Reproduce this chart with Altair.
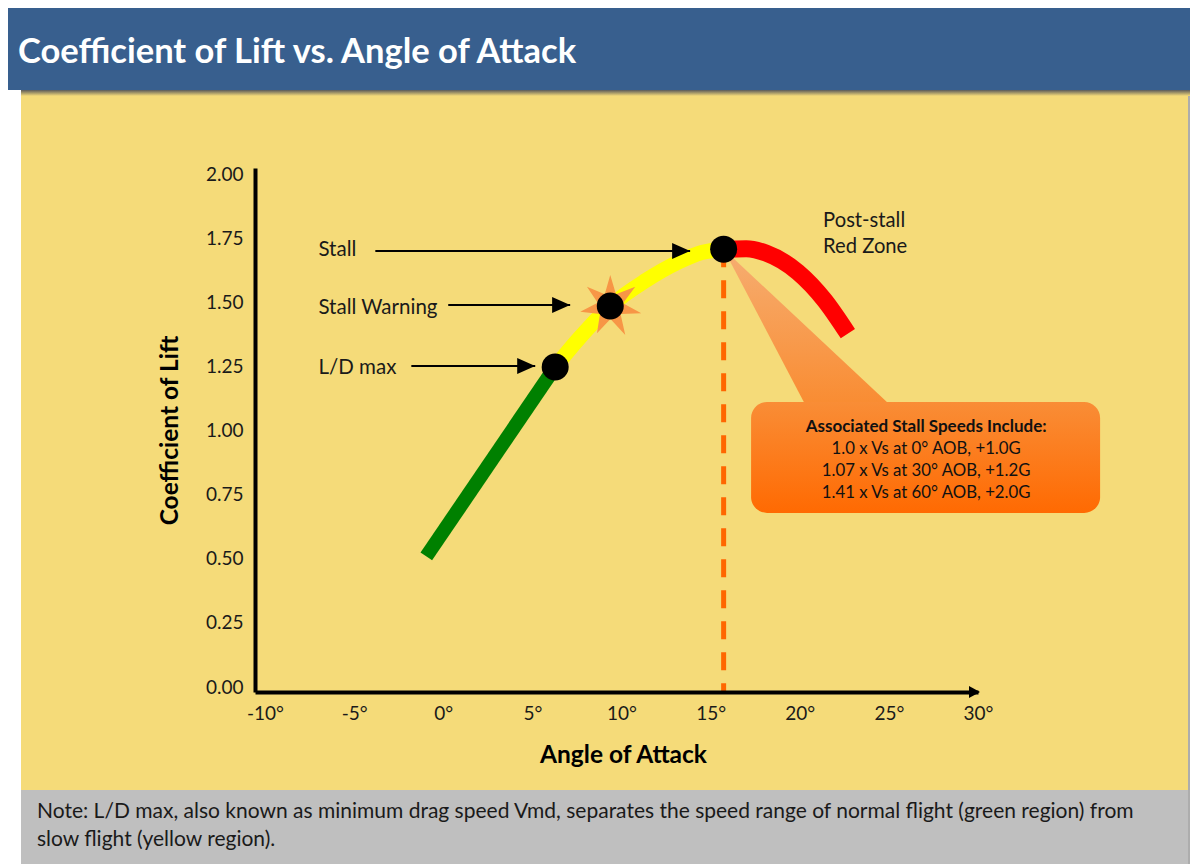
import math
import altair as alt
import pandas as pd

# ---------------- data ----------------
green_aoa = [-0.95, 6.28]
green_cl = [0.51, 1.25]
yellow_aoa = [6.28, 7.6, 9.37, 11.3, 13.2, 14.5, 15.73]
yellow_cl = [1.25, 1.36, 1.488, 1.585, 1.66, 1.697, 1.71]
red_aoa = [15.73, 17.0, 18.1, 19.9, 21.4, 22.7]
red_cl = [1.71, 1.712, 1.695, 1.62, 1.51, 1.38]

point_names = ["L/D max", "Stall Warning", "Stall"]
point_aoa = [6.28, 9.37, 15.73]
point_cl = [1.25, 1.488, 1.71]

label_aoa = [-7.0, -7.0, -7.0]
label_cl = [1.246, 1.48, 1.707]
arrow_from = [-1.79, 0.28, -3.81]
arrow_to = [5.16, 7.12, 13.85]
arrow_cl = [1.254, 1.492, 1.703]

stall_aoa = 15.73
stall_cl = 1.71

post_lines = ["Post-stall", "Red Zone"]
post_aoa = [21.31, 21.31]
post_cl = [1.82, 1.719]

box_aoa = [17.27, 36.85]
box_cl = [1.113, 0.68]
box_title = "Associated Stall Speeds Include:"
box_lines = ["1.0 x Vs at 0° AOB, +1.0G", "1.07 x Vs at 30° AOB, +1.2G", "1.41 x Vs at 60° AOB, +2.0G"]
box_text_aoa = 27.09
box_title_cl = 1.0156
box_lines_cl = [0.930, 0.844, 0.758]

x_ticks = [-10, -5, 0, 5, 10, 15, 20, 25, 30]
y_ticks = [0.0, 0.25, 0.5, 0.75, 1.0, 1.25, 1.5, 1.75, 2.0]
x_domain = [-10.56, 30]
y_domain = [-0.0195, 2.027]

title_text = "Coefficient of Lift vs. Angle of Attack"
note_line1 = "Note: L/D max, also known as minimum drag speed Vmd, separates the speed range of normal flight (green region) from"
note_line2 = "slow flight (yellow region)."

FONT = "Lato"

# ---------------- scales / axes ----------------
xscale = alt.Scale(domain=x_domain, nice=False, zero=False)
yscale = alt.Scale(domain=y_domain, nice=False, zero=False)
xaxis = alt.Axis(values=x_ticks, labelExpr="datum.value + '°'", title="Angle of Attack",
                 grid=False, ticks=False, tickSize=0, domainColor="black", domainWidth=4,
                 labelFont=FONT, labelFontSize=19, labelColor="#1a1a1a", labelPadding=12,
                 labelFlush=False, labelOverlap=False, zindex=1,
                 titleFont=FONT, titleFontSize=24.5, titleFontWeight="bold", titleColor="black",
                 titleX=368, titleY=63, titleAlign="center", titleBaseline="middle")
yaxis = alt.Axis(values=y_ticks, format=".2f", title="Coefficient of Lift",
                 grid=False, ticks=False, tickSize=0, domainColor="black", domainWidth=4,
                 labelFont=FONT, labelFontSize=19, labelColor="#1a1a1a", labelPadding=12,
                 labelFlush=False, labelOverlap=False, zindex=1,
                 titleFont=FONT, titleFontSize=24.5, titleFontWeight="bold", titleColor="black",
                 titleAngle=270, titleX=-85, titleY=262, titleAlign="center", titleBaseline="middle")


def X(field):
    return alt.X(field, type="quantitative", scale=xscale, axis=xaxis)


def Y(field):
    return alt.Y(field, type="quantitative", scale=yscale, axis=yaxis)


one = pd.DataFrame({"k": [0]})

# ---------------- page furniture (pixels, relative to plot origin) ----------------
header = alt.Chart(one).mark_rect(color="#385F8E").encode(
    x=alt.value(-247), x2=alt.value(935), y=alt.value(-160), y2=alt.value(-78))
panel = alt.Chart(one).mark_rect(color="#F5DB79").encode(
    x=alt.value(-234), x2=alt.value(933), y=alt.value(-76), y2=alt.value(622))
note_box = alt.Chart(one).mark_rect(color="#BFBFBF").encode(
    x=alt.value(-234), x2=alt.value(933), y=alt.value(622), y2=alt.value(705))
right_shadow = alt.Chart(one).mark_rect(color="#8a8a8a", opacity=0.7).encode(
    x=alt.value(933), x2=alt.value(935), y=alt.value(-76), y2=alt.value(705))
header_shadow = alt.Chart(one).mark_rect(
    fill=alt.Gradient(gradient="linear", x1=0, y1=0, x2=0, y2=1,
                      stops=[alt.GradientStop(color="#5a5a5a", offset=0),
                             alt.GradientStop(color="#F5DB79", offset=1)])).encode(
    x=alt.value(-234), x2=alt.value(935), y=alt.value(-78), y2=alt.value(-72))

title = alt.Chart(pd.DataFrame({"t": [title_text]})).mark_text(
    font=FONT, fontSize=34.5, fontWeight="bold", color="white", align="left", baseline="middle"
).encode(x=alt.value(-237), y=alt.value(-115), text="t:N")

note1 = alt.Chart(pd.DataFrame({"t": [note_line1]})).mark_text(
    font=FONT, fontSize=21, color="#1a1a1a", align="left", baseline="middle"
).encode(x=alt.value(-218), y=alt.value(644), text="t:N")
note2 = alt.Chart(pd.DataFrame({"t": [note_line2]})).mark_text(
    font=FONT, fontSize=21, color="#1a1a1a", align="left", baseline="middle"
).encode(x=alt.value(-218), y=alt.value(672), text="t:N")

# ---------------- chart content (data coordinates) ----------------
df_green = pd.DataFrame({"aoa": green_aoa, "cl": green_cl})
df_yellow = pd.DataFrame({"aoa": yellow_aoa, "cl": yellow_cl})
df_red = pd.DataFrame({"aoa": red_aoa, "cl": red_cl})
df_pts = pd.DataFrame({"name": point_names, "aoa": point_aoa, "cl": point_cl})
df_lbl = pd.DataFrame({"name": point_names, "aoa": label_aoa, "cl": label_cl})
df_arr = pd.DataFrame({"a0": arrow_from, "a1": arrow_to, "cl": arrow_cl})
df_stall = pd.DataFrame({"aoa": [stall_aoa], "cl": [stall_cl], "cl0": [y_domain[0]]})
df_post = pd.DataFrame({"t": post_lines, "aoa": post_aoa, "cl": post_cl})
df_box = pd.DataFrame({"a0": [box_aoa[0]], "a1": [box_aoa[1]], "c0": [box_cl[0]], "c1": [box_cl[1]]})
df_btitle = pd.DataFrame({"t": [box_title], "aoa": [box_text_aoa], "cl": [box_title_cl]})
df_blines = pd.DataFrame({"t": box_lines, "aoa": [box_text_aoa] * 3, "cl": box_lines_cl})
df_xarrow = pd.DataFrame({"aoa": [x_domain[1]], "cl": [y_domain[0]]})
df_warn = df_pts[df_pts["name"] == "Stall Warning"]

dashed = alt.Chart(df_stall).mark_rule(color="#FF6600", strokeWidth=5, strokeDash=[18, 13]).encode(
    x=X("aoa"), y=Y("cl"), y2="cl0")

pointer = alt.Chart(df_stall).mark_point(
    shape="M0,0L84,160L171,160Z", size=4, filled=True, opacity=1, strokeWidth=0,
    fill=alt.Gradient(gradient="linear", x1=0, y1=0, x2=0, y2=1,
                      stops=[alt.GradientStop(color="#F6AE72", offset=0),
                             alt.GradientStop(color="#F98B30", offset=1)])
).encode(x=X("aoa"), y=Y("cl"))

box = alt.Chart(df_box).mark_rect(
    cornerRadius=16,
    fill=alt.Gradient(gradient="linear", x1=0, y1=0, x2=0, y2=1,
                      stops=[alt.GradientStop(color="#F98D36", offset=0),
                             alt.GradientStop(color="#FF6A02", offset=1)])
).encode(x=X("a0"), x2="a1", y=Y("c0"), y2="c1")

btitle = alt.Chart(df_btitle).mark_text(font=FONT, fontSize=17, fontWeight="bold", color="#111",
                                         baseline="middle").encode(x=X("aoa"), y=Y("cl"), text="t:N")
blines = alt.Chart(df_blines).mark_text(font=FONT, fontSize=16.8, color="#111",
                                         baseline="middle").encode(x=X("aoa"), y=Y("cl"), text="t:N")

green = alt.Chart(df_green).mark_line(color="#008000", strokeWidth=14).encode(x=X("aoa"), y=Y("cl"))
yellow = alt.Chart(df_yellow).mark_line(color="#FFFF00", strokeWidth=15, interpolate="monotone").encode(
    x=X("aoa"), y=Y("cl"))
red = alt.Chart(df_red).mark_line(color="#FF0000", strokeWidth=17, interpolate="monotone").encode(
    x=X("aoa"), y=Y("cl"))

# 7-point starburst (pixel units with size=4)
tips = [(0, -31), (25, -19.3), (31, 7.3), (15, 29), (-13.3, 27.3), (-30, 5.7), (-23.3, -19.3)]
star_cmds = []
for i, (tx, ty) in enumerate(tips):
    nx, ny = tips[(i + 1) % len(tips)]
    a0 = math.atan2(ty, tx)
    a1 = math.atan2(ny, nx)
    if a1 < a0:
        a1 += 2 * math.pi
    am = (a0 + a1) / 2
    star_cmds.append(("M" if i == 0 else "L") + f"{tx:.1f},{ty:.1f}")
    star_cmds.append(f"L{13 * math.cos(am):.1f},{13 * math.sin(am):.1f}")
star_path = "".join(star_cmds) + "Z"

star = alt.Chart(df_warn).mark_point(shape=star_path, size=4, filled=True, opacity=1,
                                      fill="#F79646", strokeWidth=0).encode(x=X("aoa"), y=Y("cl"))

dots = alt.Chart(df_pts).mark_point(shape="circle", size=729, filled=True, opacity=1,
                                     fill="black", strokeWidth=0).encode(x=X("aoa"), y=Y("cl"))

arrows = alt.Chart(df_arr).mark_rule(color="black", strokeWidth=2).encode(
    x=X("a0"), x2="a1", y=Y("cl"))
heads = alt.Chart(df_arr).mark_point(shape="M-18,-8L0,0L-18,8Z", size=4, filled=True, opacity=1,
                                      fill="black", strokeWidth=0).encode(x=X("a1"), y=Y("cl"))

labels = alt.Chart(df_lbl).mark_text(font=FONT, fontSize=20.5, color="#1a1a1a", align="left",
                                      baseline="middle").encode(x=X("aoa"), y=Y("cl"), text="name:N")
post = alt.Chart(df_post).mark_text(font=FONT, fontSize=20.2, color="#1a1a1a", align="left",
                                     baseline="middle").encode(x=X("aoa"), y=Y("cl"), text="t:N")

xarrow = alt.Chart(df_xarrow).mark_point(shape="M-9,-6L2,0L-9,6Z", size=4, filled=True, opacity=1,
                                          fill="black", strokeWidth=0).encode(x=X("aoa"), y=Y("cl"))

chart = alt.layer(
    header, panel, note_box, right_shadow, header_shadow, title, note1, note2,
    dashed, pointer, box, btitle, blines,
    green, yellow, red, star, dots, arrows, heads, labels, post, xarrow,
).properties(
    width=723, height=524,
    autosize=alt.AutoSizeParams(type="none"),
    padding={"left": 247, "top": 160, "right": 212, "bottom": 172},
    background="white",
).configure_view(strokeWidth=0)

chart.save("out.html", embed_options={"renderer": "svg", "actions": False})
